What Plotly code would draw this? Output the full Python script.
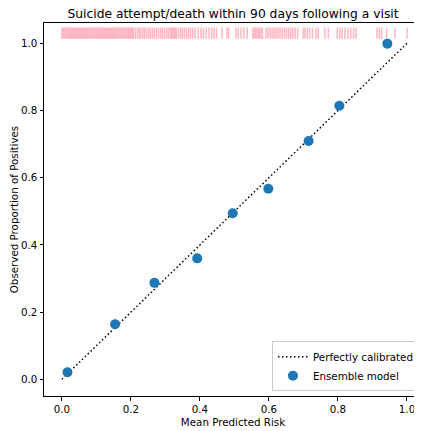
import plotly.graph_objects as go

# ---- data ----
mean_predicted = [0.016, 0.154, 0.268, 0.392, 0.495, 0.598, 0.715, 0.804, 0.943]
observed_prop = [0.021, 0.164, 0.287, 0.360, 0.494, 0.567, 0.709, 0.814, 0.999]
diag_x = [0.0, 1.0]
diag_y = [0.0, 1.0]
rug_risk = [
    0.000, 0.003, 0.006, 0.009, 0.012, 0.015, 0.018, 0.021, 0.024, 0.027,
    0.030, 0.033, 0.036, 0.039, 0.042, 0.045, 0.048, 0.051, 0.054, 0.057,
    0.060, 0.063, 0.066, 0.069, 0.072, 0.075, 0.078, 0.081, 0.084, 0.087,
    0.090, 0.093, 0.096, 0.099, 0.102, 0.105, 0.108, 0.111, 0.114, 0.117,
    0.120, 0.123, 0.126, 0.129, 0.132, 0.135, 0.138, 0.141, 0.144, 0.147,
    0.150, 0.153, 0.156, 0.159, 0.162, 0.165, 0.168, 0.171, 0.174, 0.177,
    0.180, 0.183, 0.186, 0.189, 0.192, 0.195, 0.198, 0.201, 0.204, 0.207,
    0.213, 0.219, 0.224, 0.229, 0.235, 0.240, 0.246, 0.252, 0.257, 0.263,
    0.268, 0.274, 0.280, 0.286, 0.291, 0.297, 0.303, 0.308,
    0.314, 0.317, 0.320, 0.323, 0.326, 0.329, 0.332,
    0.338, 0.344, 0.349, 0.355, 0.361, 0.367, 0.373, 0.379,
    0.386,
    0.395, 0.403, 0.410, 0.418, 0.426, 0.434, 0.441, 0.448,
    0.464, 0.478, 0.483, 0.504, 0.511,
    0.519, 0.527, 0.537,
    0.553, 0.557, 0.561, 0.565, 0.569, 0.573, 0.577, 0.581,
    0.591, 0.597, 0.603, 0.609, 0.615, 0.620, 0.626, 0.632, 0.638, 0.645,
    0.651, 0.657, 0.663, 0.669, 0.676, 0.683,
    0.699, 0.704, 0.711, 0.718, 0.726, 0.736, 0.743, 0.762, 0.772,
    0.798, 0.805, 0.812, 0.820, 0.829, 0.837, 0.845, 0.852,
    0.913, 0.920, 0.927, 0.941, 0.965, 1.000,
]
tick_vals = [0.0, 0.2, 0.4, 0.6, 0.8, 1.0]
tick_text = ["0.0", "0.2", "0.4", "0.6", "0.8", "1.0"]

TITLE = "Suicide attempt/death within 90 days following a visit"
RUG_LEVEL = 1.03

FONT = "DejaVu Sans"
FS = 10.3
FIG_W, FIG_H = 414, 423   # page body adds an 8px offset

fig = go.Figure()

fig.add_trace(go.Scatter(
    x=rug_risk, y=[RUG_LEVEL] * len(rug_risk), mode="markers",
    marker=dict(symbol="line-ns", size=8,
                line=dict(width=1.5, color="#ffb6c1"), color="#ffb6c1"),
    showlegend=False, hoverinfo="skip",
))
fig.add_trace(go.Scatter(
    x=diag_x, y=diag_y, mode="lines", name="Perfectly calibrated",
    line=dict(color="black", width=1.5, dash="1.5px,2.5px"),
))
fig.add_trace(go.Scatter(
    x=mean_predicted, y=observed_prop, mode="markers", name="Ensemble model",
    marker=dict(color="#1f77b4", size=10, line=dict(width=0)),
))

axis_common = dict(
    showgrid=False, zeroline=False, showline=True, linecolor="black",
    linewidth=1, ticks="outside", ticklen=3.5, tickwidth=1, tickcolor="black",
    tickvals=tick_vals, ticktext=tick_text,
    tickfont=dict(family=FONT, size=FS, color="black"),
)

fig.update_layout(
    width=FIG_W, height=FIG_H,
    margin=dict(l=36, r=0, t=15, b=35),
    paper_bgcolor="white", plot_bgcolor="white",
    font=dict(family=FONT, size=FS, color="black"),
    title=dict(text=TITLE, x=0.5, xref="paper", xanchor="center",
               y=1 - 5.5 / FIG_H, yref="container", yanchor="middle",
               font=dict(family=FONT, size=12.3, color="black")),
    xaxis=dict(range=[-0.052, 1.0435], mirror=True,
               title=dict(text="Mean Predicted Risk", standoff=4,
                          font=dict(family=FONT, size=FS, color="black")),
               **axis_common),
    yaxis=dict(range=[-0.0497, 1.0604], mirror=False,
               title=dict(text="Observed Proportion of Positives", standoff=4,
                          font=dict(family=FONT, size=FS, color="black")),
               **axis_common),
    legend=dict(x=0.992, y=0.013, xanchor="right", yanchor="bottom",
                bgcolor="rgba(255,255,255,0.8)", bordercolor="#cccccc",
                borderwidth=1, font=dict(family=FONT, size=FS, color="black"),
                tracegroupgap=0, itemwidth=30),
)

fig.write_html("out.html")
